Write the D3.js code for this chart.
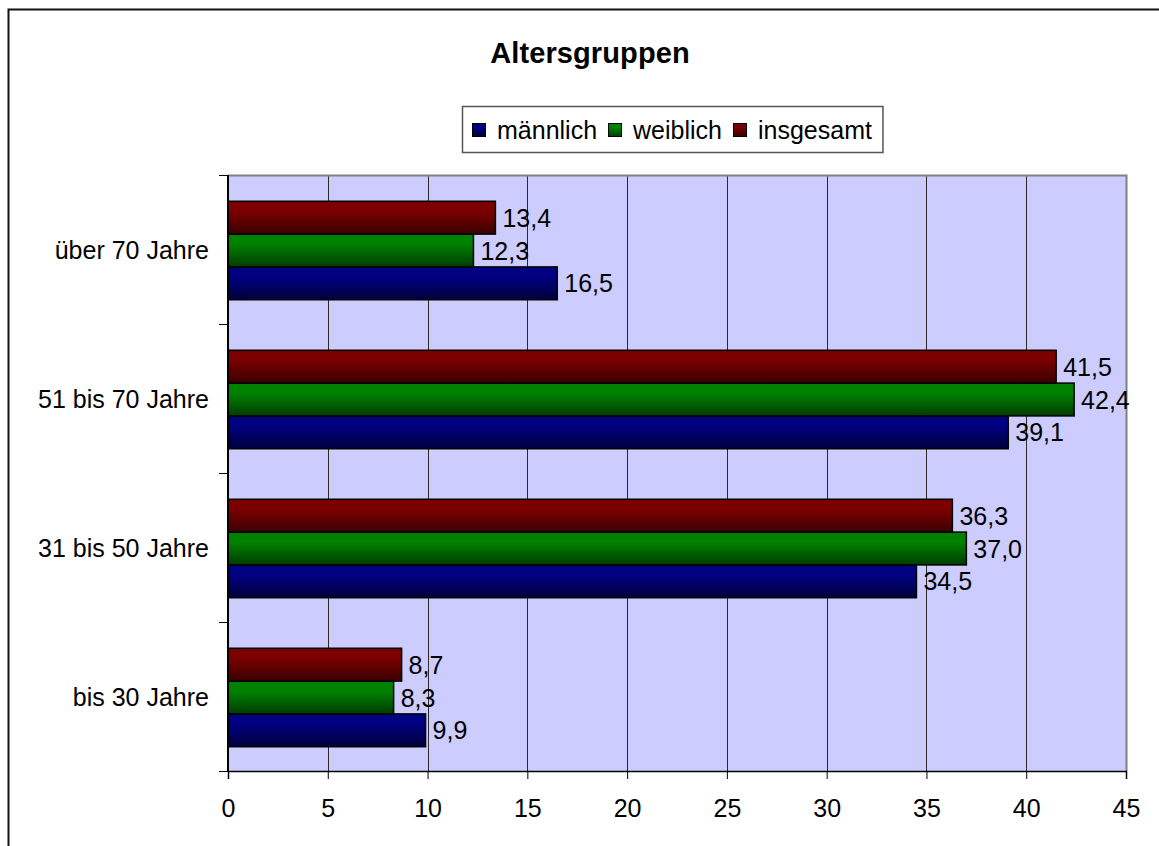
<!DOCTYPE html>
<html>
<head>
<meta charset="utf-8">
<script src="https://cdn.jsdelivr.net/npm/d3@7"></script>
<style>
  html, body { margin: 0; padding: 0; background: #fff; }
  svg { display: block; font-family: "Liberation Sans", Arial, sans-serif; }
</style>
</head>
<body>
<svg id="chart" width="1159" height="846"></svg>
<script>
// Age groups, bottom to top as they appear on the category axis
const categories = ["bis 30 Jahre", "31 bis 50 Jahre", "51 bis 70 Jahre", "über 70 Jahre"];
const seriesNames = ["männlich", "weiblich", "insgesamt"];
const maennlich = [9.9, 34.5, 39.1, 16.5];
const weiblich  = [8.3, 37.0, 42.4, 12.3];
const insgesamt = [8.7, 36.3, 41.5, 13.4];
const xTicks = [0, 5, 10, 15, 20, 25, 30, 35, 40, 45];
const titleText = "Altersgruppen";

const seriesValues = { "männlich": maennlich, "weiblich": weiblich, "insgesamt": insgesamt };
const seriesColors = {
  "männlich":  ["#000082", "#00003c"],
  "weiblich":  ["#008200", "#003c00"],
  "insgesamt": ["#7c0000", "#3a0000"]
};

const fmt = d3.formatLocale({ decimal: ",", thousands: ".", grouping: [3], currency: ["", " €"] }).format(".1f");

const svg = d3.select("#chart");
const plot = { left: 228, right: 1126, top: 175, bottom: 771 };

// gradients for the bar fills (lighter at the top, darker at the bottom)
const defs = svg.append("defs");
seriesNames.forEach((s, i) => {
  const g = defs.append("linearGradient")
    .attr("id", "grad" + i).attr("x1", 0).attr("y1", 0).attr("x2", 0).attr("y2", 1);
  g.append("stop").attr("offset", "0%").attr("stop-color", seriesColors[s][0]);
  g.append("stop").attr("offset", "30%").attr("stop-color", seriesColors[s][0]);
  g.append("stop").attr("offset", "100%").attr("stop-color", seriesColors[s][1]);
});

// outer chart frame
svg.append("rect")
  .attr("x", 8.5).attr("y", 9.5).attr("width", 1200).attr("height", 900)
  .attr("fill", "#fff").attr("stroke", "#111").attr("stroke-width", 2);

// title
svg.append("text")
  .attr("x", 590).attr("y", 63)
  .attr("text-anchor", "middle")
  .attr("font-size", 29).attr("font-weight", "bold")
  .attr("letter-spacing", 0.1)
  .text(titleText);

// scales
const x = d3.scaleLinear().domain([0, 45]).range([plot.left, plot.right]);
const y = d3.scaleBand().domain(categories.slice().reverse()).range([plot.top, plot.bottom]);
const inner = d3.scaleBand().domain(["insgesamt", "weiblich", "männlich"])
  .range([0, y.bandwidth()]).paddingInner(0).paddingOuter(0.77);

// plot background
svg.append("rect")
  .attr("x", plot.left).attr("y", plot.top)
  .attr("width", plot.right - plot.left).attr("height", plot.bottom - plot.top)
  .attr("fill", "#ccccff");

// vertical gridlines
svg.append("g").selectAll("line")
  .data(xTicks.filter(t => t > 0 && t < 45))
  .join("line")
  .attr("x1", d => Math.round(x(d)) + 0.5).attr("x2", d => Math.round(x(d)) + 0.5)
  .attr("y1", plot.top).attr("y2", plot.bottom)
  .attr("stroke", "#2a2a2a").attr("stroke-width", 1);

// top and right plot edges
svg.append("path")
  .attr("d", `M${plot.left},${plot.top + 0.5}H${plot.right + 0.5}V${plot.bottom}`)
  .attr("fill", "none").attr("stroke", "#808080").attr("stroke-width", 2);

// bars
const rows = categories.map((c, i) => ({ cat: c, i }));
const groups = svg.append("g").selectAll("g")
  .data(rows).join("g")
  .attr("transform", d => `translate(0,${y(d.cat) + 1})`);

seriesNames.forEach((s, si) => {
  groups.append("rect")
    .attr("x", plot.left)
    .attr("y", inner(s))
    .attr("width", d => x(seriesValues[s][d.i]) - plot.left)
    .attr("height", inner.bandwidth())
    .attr("fill", `url(#grad${si})`)
    .attr("stroke", "#000").attr("stroke-width", 1.5);

  groups.append("text")
    .attr("x", d => x(seriesValues[s][d.i]) + 7)
    .attr("y", inner(s) + inner.bandwidth() / 2)
    .attr("dy", "0.36em")
    .attr("font-size", 25)
    .text(d => fmt(seriesValues[s][d.i]));
});

// x axis
const xAxis = svg.append("g")
  .attr("transform", `translate(0,${plot.bottom})`)
  .call(d3.axisBottom(x).tickValues(xTicks).tickSize(8).tickPadding(20).tickFormat(d3.format("d")));
xAxis.select(".domain").attr("stroke", "#000").attr("stroke-width", 1.5);
xAxis.selectAll(".tick line").attr("stroke", "#000");
xAxis.selectAll(".tick text").attr("font-size", 25).attr("fill", "#000")
  .attr("font-family", "Liberation Sans, Arial, sans-serif");

// y axis: category labels with ticks at band boundaries
const yAxis = svg.append("g").attr("transform", `translate(${plot.left},0)`);
yAxis.append("line")
  .attr("x1", 0).attr("x2", 0).attr("y1", plot.top).attr("y2", plot.bottom)
  .attr("stroke", "#000").attr("stroke-width", 2);
const boundaries = y.domain().map(c => y(c)).concat([plot.bottom]);
yAxis.selectAll("line.tick").data(boundaries).join("line")
  .attr("class", "tick")
  .attr("x1", -9).attr("x2", 0)
  .attr("y1", d => Math.round(d) + 0.5).attr("y2", d => Math.round(d) + 0.5)
  .attr("stroke", "#000").attr("stroke-width", 1);
yAxis.selectAll("text").data(y.domain()).join("text")
  .attr("x", -19)
  .attr("y", d => y(d) + y.bandwidth() / 2)
  .attr("dy", "0.36em")
  .attr("text-anchor", "end")
  .attr("font-size", 25)
  .text(d => d);

// legend
const legend = svg.append("g");
const legendBox = legend.append("rect")
  .attr("x", 462.5).attr("y", 106.5).attr("height", 46)
  .attr("fill", "#fff").attr("stroke", "#555").attr("stroke-width", 1.5);
let lx = 472;
seriesNames.forEach((s, si) => {
  legend.append("rect")
    .attr("x", lx + 0.5).attr("y", 123.5).attr("width", 13).attr("height", 13)
    .attr("fill", `url(#grad${si})`).attr("stroke", "#000").attr("stroke-width", 1);
  const t = legend.append("text")
    .attr("x", lx + 25).attr("y", 139)
    .attr("font-size", 25)
    .text(s);
  lx = lx + 25 + t.node().getComputedTextLength() + 11;
});
legendBox.attr("width", lx - 462.5);
</script>
</body>
</html>
